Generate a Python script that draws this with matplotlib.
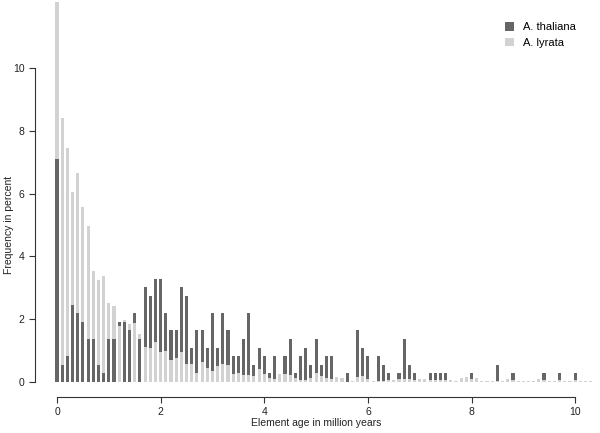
import matplotlib
matplotlib.use('Agg')
import matplotlib.pyplot as plt
from matplotlib.patches import Patch
import numpy as np

plt.rcParams['font.family'] = ['Liberation Sans', 'DejaVu Sans']

# data: age bins (million years) and frequency in percent
age = np.round(np.arange(0, 10.31, 0.1), 1)

thaliana = [7.10, 0.55, 0.82, 2.46, 2.19, 1.91, 1.36, 1.36, 0.55, 0.27,
            1.36, 1.36, 1.91, 1.91, 1.64, 2.19, 1.36, 3.01, 2.73, 3.28,
            3.28, 2.19, 1.64, 1.64, 3.01, 2.73, 1.09, 1.64, 1.64, 1.09,
            2.19, 1.09, 2.19, 1.64, 0.82, 0.82, 1.36, 2.19, 0.55, 1.09,
            0.82, 0.27, 0.82, 0.00, 0.82, 1.36, 0.27, 0.82, 1.09, 0.55,
            1.36, 0.55, 0.82, 0.82, 0.00, 0.00, 0.27, 0.00, 1.64, 1.09,
            0.82, 0.00, 0.82, 0.55, 0.27, 0.00, 0.27, 1.36, 0.55, 0.27,
            0.00, 0.00, 0.27, 0.27, 0.27, 0.27, 0.00, 0.00, 0.00, 0.00,
            0.27, 0.00, 0.00, 0.00, 0.00, 0.55, 0.00, 0.00, 0.27, 0.00,
            0.00, 0.00, 0.00, 0.00, 0.27, 0.00, 0.00, 0.27, 0.00, 0.00,
            0.27, 0.00, 0.00, 0.00]

lyrata = [12.10, 8.40, 7.45, 6.06, 6.67, 5.56, 4.98, 3.55, 3.25, 3.38,
          2.53, 2.42, 1.79, 1.97, 1.85, 1.87, 1.52, 1.12, 1.08, 1.27,
          0.95, 0.98, 0.70, 0.75, 0.94, 0.57, 0.57, 0.30, 0.62, 0.44,
          0.36, 0.51, 0.57, 0.53, 0.25, 0.30, 0.22, 0.21, 0.20, 0.41,
          0.24, 0.11, 0.09, 0.25, 0.25, 0.23, 0.14, 0.06, 0.06, 0.12,
          0.28, 0.20, 0.12, 0.08, 0.15, 0.14, 0.00, 0.02, 0.17, 0.19,
          0.08, 0.04, 0.04, 0.03, 0.05, 0.05, 0.08, 0.08, 0.08, 0.06,
          0.10, 0.08, 0.05, 0.05, 0.05, 0.05, 0.06, 0.04, 0.14, 0.15,
          0.10, 0.14, 0.04, 0.04, 0.04, 0.04, 0.03, 0.10, 0.05, 0.04,
          0.04, 0.04, 0.04, 0.10, 0.05, 0.04, 0.04, 0.05, 0.04, 0.04,
          0.05, 0.04, 0.04, 0.04]

labels = ['A. thaliana', 'A. lyrata']
dark = '#666666'
light = '#d2d2d2'

th = np.array(thaliana)
ly = np.array(lyrata)

fig = plt.figure(figsize=(6, 4.33), dpi=100)
ax = fig.add_axes([35 / 600, 36 / 433, 565 / 600, 397 / 433])

# taller bar behind, shorter one in front
tall_col = np.where(th >= ly, dark, light)
short_col = np.where(th >= ly, light, dark)
w = 0.06
ax.bar(age, np.maximum(th, ly), width=w, color=tall_col, linewidth=0)
ax.bar(age, np.minimum(th, ly), width=w, color=short_col, linewidth=0)

ax.set_xlim(-0.425, 10.48)
ax.set_ylim(-0.48, 12.17)

for s in ['top', 'right']:
    ax.spines[s].set_visible(False)
ax.spines['left'].set_bounds(0, 10)
ax.spines['bottom'].set_bounds(0, 10)
for s in ['left', 'bottom']:
    ax.spines[s].set_color('#333333')
    ax.spines[s].set_linewidth(0.8)

ax.set_xticks([0, 2, 4, 6, 8, 10])
ax.set_yticks([0, 2, 4, 6, 8, 10])
ax.tick_params(direction='out', length=4, width=0.8, color='#333333',
               labelsize=7.5, labelcolor='#222222')

ax.set_xlabel('Element age in million years', fontsize=7.5, color='#222222')
ax.set_ylabel('Frequency in percent', fontsize=7.5, color='#222222')
ax.xaxis.set_label_coords(0.4975, -0.052)
ax.yaxis.set_label_coords(-0.037, 0.433)

handles = [Patch(facecolor=dark), Patch(facecolor=light)]
fig.legend(handles, labels, loc='upper left', bbox_to_anchor=(495 / 600, 1 - 12 / 433),
           frameon=False, fontsize=8, handlelength=0.8, handleheight=0.8,
           handletextpad=0.8, labelspacing=0.5)

plt.savefig('out.png', dpi=100)
